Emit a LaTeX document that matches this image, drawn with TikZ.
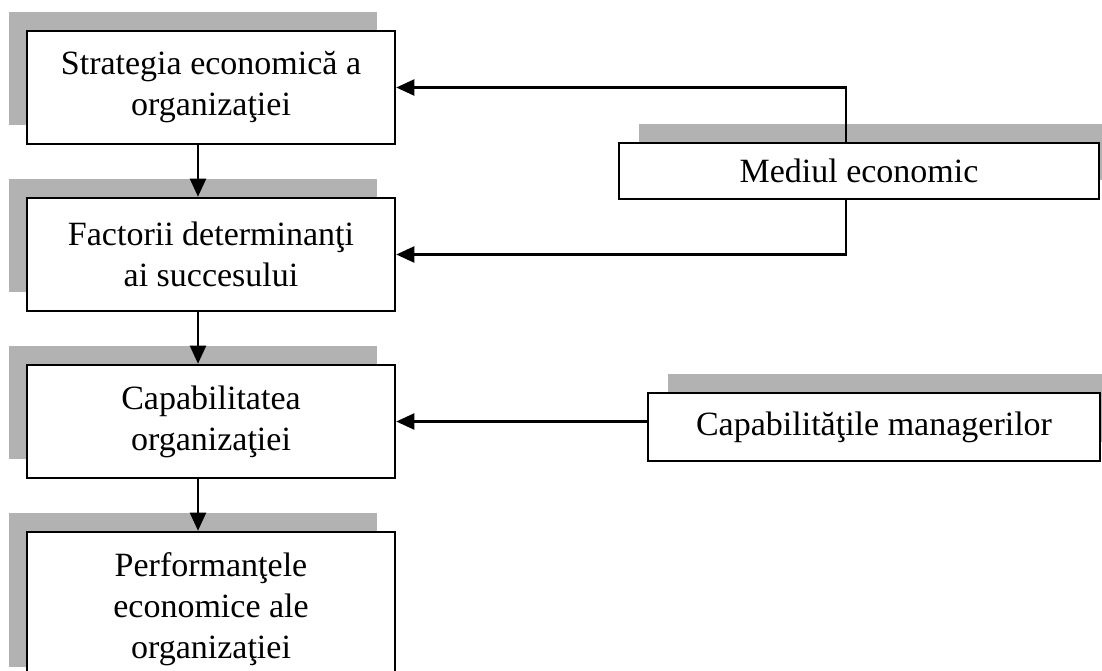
\documentclass[tikz,border=0pt]{standalone}
\usepackage{fontspec}
\setmainfont{Liberation Serif}
\usetikzlibrary{arrows.meta,shadows}
\begin{document}
\begin{tikzpicture}[x=1pt,y=-1pt,
		box/.style={draw,line width=2.6pt,fill=white,align=center,inner sep=0pt,
			font=\fontsize{34}{41}\selectfont},
		leftbox/.style={box,minimum width=368pt,minimum height=113pt,
			general shadow={fill=black!30,shadow xshift=-18pt,shadow yshift=19pt}},
		rightbox/.style={box,
			general shadow={fill=black!30,shadow xshift=20pt,shadow yshift=19pt}},
		arr/.style={-{Triangle[length=18pt,width=16pt]},line width=2.2pt}]
			\useasboundingbox (0,0) rectangle (1102,670);
			\clip (0,0) rectangle (1102,670);
			\node[leftbox] (strat) at (211,87.5) {Strategia economică a\\organizaţiei};
			\node[leftbox] (fact) at (211,254.5) {Factorii determinanţi\\ai succesului};
			\node[leftbox] (cap) at (211,421.5) {Capabilitatea\\organizaţiei};
			\node[leftbox,minimum height=154pt] (perf) at (211,609) {Performanţele\\economice ale\\organizaţiei};
			\node[rightbox,minimum width=480pt,minimum height=56pt] (med) at (859,171) {\raisebox{-4pt}{Mediul economic}};
			\node[rightbox,minimum width=452pt,minimum height=68pt] (mgr) at (874,427) {Capabilităţile managerilor};
			\draw[arr] ([xshift=-13pt]strat.south) -- ([xshift=-13pt]fact.north);
			\draw[arr] ([xshift=-13pt]fact.south) -- ([xshift=-13pt]cap.north);
			\draw[arr] ([xshift=-13pt]cap.south) -- ([xshift=-13pt]perf.north);
			\draw[arr] ([xshift=-13pt]med.north) |- (strat.east);
			\draw[arr] ([xshift=-13pt]med.south) |- (fact.east);
			\draw[arr] (cap.east -| mgr.west) -- (cap.east);
		\end{tikzpicture}
\end{document}
